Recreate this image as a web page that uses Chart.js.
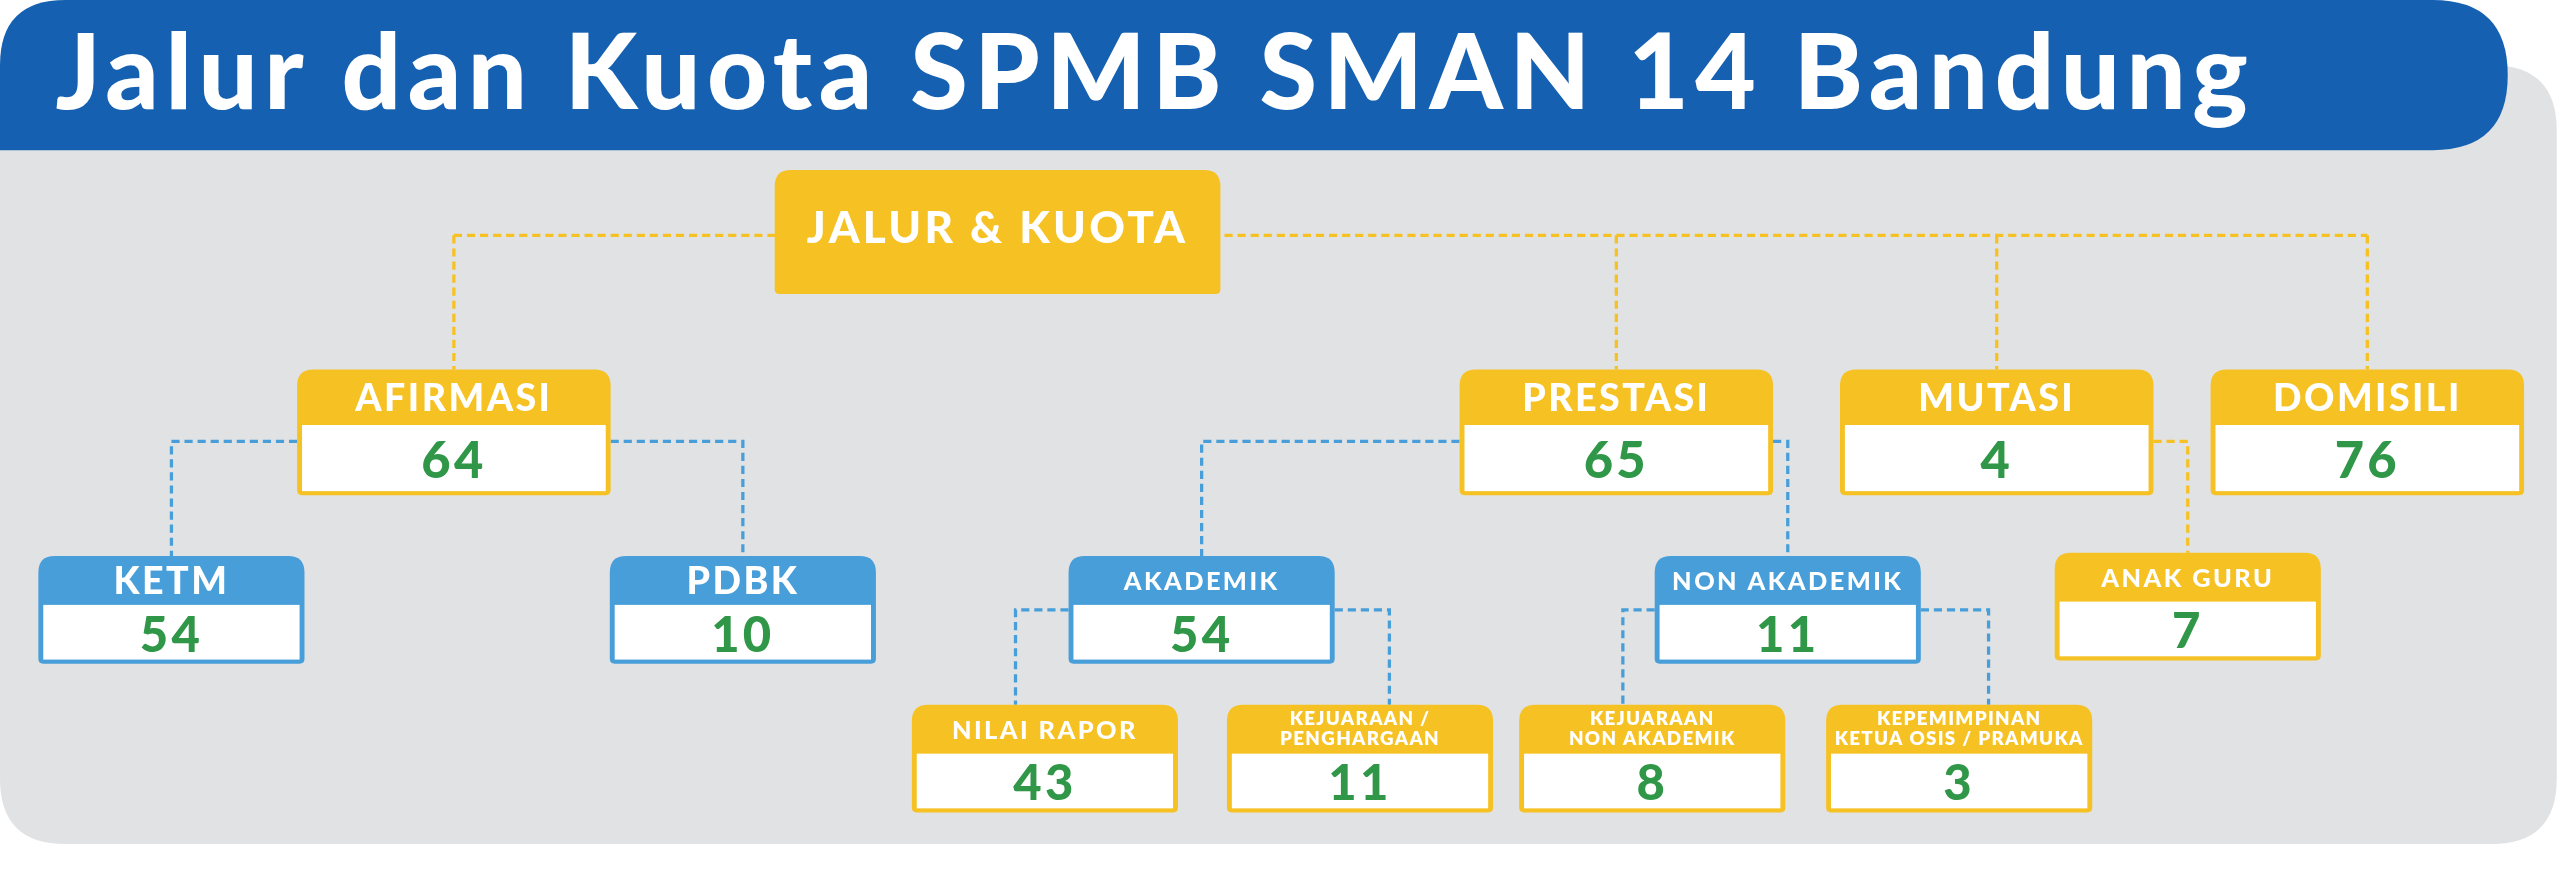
<!DOCTYPE html>
<html>
<head>
<meta charset="utf-8">
<script src="https://cdn.jsdelivr.net/npm/chart.js@4.4.1/dist/chart.umd.min.js"></script>
<style>
  html, body { margin: 0; padding: 0; background: #ffffff; }
  #wrap { position: relative; width: 2560px; height: 878px; }
</style>
</head>
<body>
<div id="wrap"><canvas id="c" width="2560" height="878"></canvas></div>
<script>
// Tree data: label, quota, parent index, colour kind
const titleText = 'Jalur dan Kuota SPMB SMAN 14 Bandung';
const nodeLabels = ['JALUR & KUOTA', 'AFIRMASI', 'PRESTASI', 'MUTASI', 'DOMISILI',
  'KETM', 'PDBK', 'AKADEMIK', 'NON AKADEMIK', 'ANAK GURU',
  'NILAI RAPOR', 'KEJUARAAN /\nPENGHARGAAN', 'KEJUARAAN\nNON AKADEMIK', 'KEPEMIMPINAN\nKETUA OSIS / PRAMUKA'];
const nodeValues = [null, 64, 65, 4, 76, 54, 10, 54, 11, 7, 43, 11, 8, 3];
const nodeParents = [-1, 0, 0, 0, 0, 1, 1, 2, 2, 3, 7, 7, 8, 8];
const nodeKinds = ['root', 'big', 'big', 'big', 'big', 'blue', 'blue', 'blue', 'blue', 'small',
  'small', 'small', 'small', 'small'];
// layout (reference units, 1568 x 537 canvas)
const nodeX = [611, 278, 990, 1223, 1450, 105, 455, 736, 1095, 1340, 640, 833, 1012, 1200];
const nodeY = [104, 226, 226, 226, 226, 340, 340, 340, 340, 338, 431, 431, 431, 431];

const S = 2560 / 1568;
const YELLOW = '#f6c123', BLUE = '#479ed9', NAVY = '#1560b1', GREEN = '#2f9747', PANEL = '#e1e2e4';

function dims(k) {
  if (k === 'root') return { w: 273, h: 76, hd: 76 };
  if (k === 'big') return { w: 192, h: 77, hd: 34 };
  return { w: 163, h: 66, hd: 30 };
}
function rr(ctx, x, y, w, h, r) {
  ctx.beginPath();
  ctx.moveTo(x + r[0], y);
  ctx.lineTo(x + w - r[1], y); ctx.quadraticCurveTo(x + w, y, x + w, y + r[1]);
  ctx.lineTo(x + w, y + h - r[2]); ctx.quadraticCurveTo(x + w, y + h, x + w - r[2], y + h);
  ctx.lineTo(x + r[3], y + h); ctx.quadraticCurveTo(x, y + h, x, y + h - r[3]);
  ctx.lineTo(x, y + r[0]); ctx.quadraticCurveTo(x, y, x + r[0], y);
  ctx.closePath();
}

const backdrop = {
  id: 'backdrop',
  beforeDraw(chart) {
    const ctx = chart.ctx;
    ctx.save(); ctx.scale(S, S);
    ctx.fillStyle = PANEL;
    rr(ctx, 0, 40, 1566, 477, [0, 40, 40, 40]); ctx.fill();
    ctx.fillStyle = NAVY;
    rr(ctx, 0, 0, 1536, 92, [40, 46, 46, 0]); ctx.fill();
    ctx.fillStyle = '#ffffff';
    ctx.font = '900 64px Lato';
    ctx.letterSpacing = '4px';
    ctx.textBaseline = 'middle'; ctx.textAlign = 'left';
    ctx.fillText(titleText, 34, 46);
    ctx.restore();
  }
};

const tree = {
  id: 'tree',
  afterDatasetsDraw(chart) {
    const ctx = chart.ctx;
    const pts = chart.getDatasetMeta(0).data;
    const P = pts.map(p => ({ x: p.x / S, y: p.y / S }));
    ctx.save(); ctx.scale(S, S);
    ctx.lineWidth = 2; ctx.setLineDash([5, 3]);
    // root connectors
    const kids = nodeParents.map((p, i) => p === 0 ? i : -1).filter(i => i >= 0);
    const ry = P[0].y + 40;
    ctx.strokeStyle = YELLOW;
    ctx.beginPath();
    ctx.moveTo(Math.min(...kids.map(i => P[i].x)), ry);
    ctx.lineTo(Math.max(...kids.map(i => P[i].x)), ry);
    kids.forEach(i => { ctx.moveTo(P[i].x, ry); ctx.lineTo(P[i].x, P[i].y); });
    ctx.stroke();
    // other connectors
    nodeParents.forEach((p, i) => {
      if (p <= 0) return;
      const pd = dims(nodeKinds[p]);
      const blue = nodeKinds[p] === 'blue' || nodeKinds[i] === 'blue';
      ctx.strokeStyle = blue ? BLUE : YELLOW;
      const y = P[p].y + (nodeKinds[p] === 'big' ? 44 : pd.h / 2);
      const ex = P[i].x < P[p].x ? P[p].x - pd.w / 2 : P[p].x + pd.w / 2;
      const cx = P[i].x + (P[i].x < P[p].x ? -18 : 18) * (nodeKinds[i] === 'small' && nodeKinds[p] !== 'big' ? 1 : 0);
      ctx.beginPath();
      ctx.moveTo(ex, y); ctx.lineTo(cx, y); ctx.lineTo(cx, P[i].y);
      ctx.stroke();
    });
    ctx.setLineDash([]);
    // boxes
    P.forEach((pt, i) => {
      const k = nodeKinds[i], d = dims(k);
      const col = k === 'blue' ? BLUE : YELLOW;
      const x = pt.x - d.w / 2, y = pt.y;
      ctx.fillStyle = col;
      rr(ctx, x, y, d.w, d.h, [10, 10, 3, 3]); ctx.fill();
      ctx.textAlign = 'center'; ctx.textBaseline = 'middle';
      ctx.fillStyle = '#ffffff';
      if (k === 'root') {
        ctx.letterSpacing = '2px';
        ctx.font = '900 27px Lato';
        ctx.fillText(nodeLabels[i], pt.x, y + d.h / 2 - 2);
        return;
      }
      const lines = nodeLabels[i].split('\n');
      if (lines.length > 1) {
        ctx.letterSpacing = '0.8px';
        ctx.font = '800 11.5px Lato';
        lines.forEach((l, j) => ctx.fillText(l, pt.x, y + 9 + j * 12));
      } else {
        const fs = k === 'big' ? 23 : (k === 'blue' && nodeLabels[i].length < 6 ? 23 : 15.5);
        ctx.letterSpacing = '1.5px';
        ctx.font = '900 ' + fs + 'px Lato';
        ctx.fillText(nodeLabels[i], pt.x, y + d.hd / 2 + 1);
      }
      ctx.fillStyle = '#ffffff';
      ctx.fillRect(x + 3, y + d.hd, d.w - 6, d.h - d.hd - 2.5);
      ctx.fillStyle = GREEN;
      ctx.letterSpacing = '2px';
      ctx.font = '900 ' + (k === 'big' ? 31 : 30) + 'px Lato';
      ctx.fillText(String(nodeValues[i]), pt.x, y + d.hd + (d.h - d.hd) / 2 + 1);
    });
    ctx.restore();
  }
};

new Chart(document.getElementById('c'), {
  type: 'scatter',
  data: {
    datasets: [{
      label: 'Jalur',
      data: nodeX.map((x, i) => ({ x: x, y: nodeY[i] })),
      pointRadius: 0
    }]
  },
  options: {
    responsive: false,
    animation: false,
    layout: { padding: 0 },
    scales: {
      x: { type: 'linear', min: 0, max: 1568, display: false },
      y: { type: 'linear', min: 0, max: 537, reverse: true, display: false }
    },
    plugins: { legend: { display: false }, tooltip: { enabled: false } }
  },
  plugins: [backdrop, tree]
});
</script>
</body>
</html>
